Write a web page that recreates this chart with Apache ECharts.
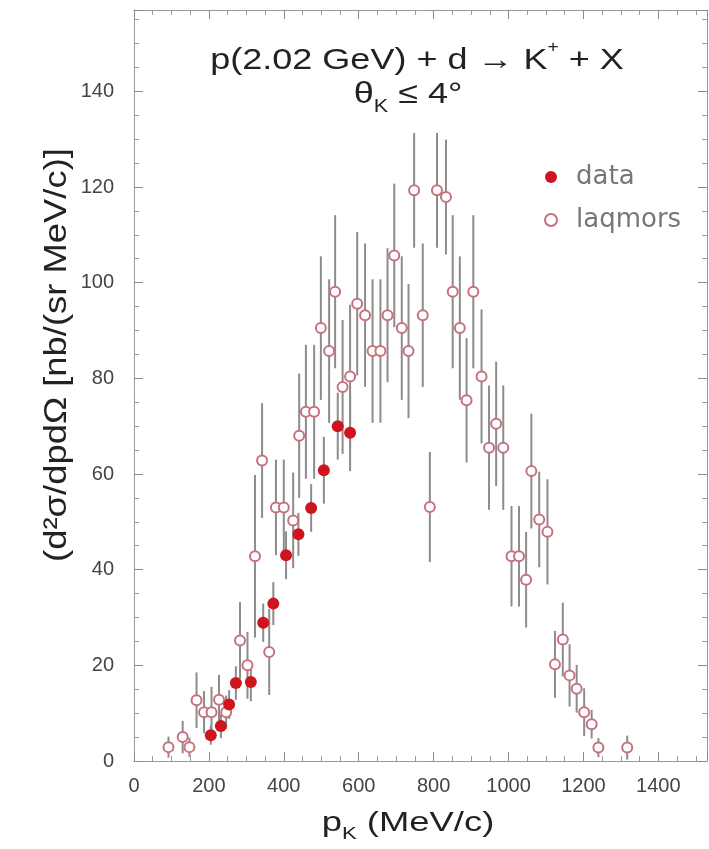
<!DOCTYPE html>
<html>
<head>
<meta charset="utf-8">
<script src="https://cdn.jsdelivr.net/npm/echarts@6/dist/echarts.min.js"></script>
<style>
html, body { margin: 0; padding: 0; background: #fff; }
#main { width: 709px; height: 849px; }
</style>
</head>
<body>
<div id="main"></div>
<script>
// 实验数据 (data): 动量 p_K, 截面, 误差
var dataX = [205, 232, 254, 272, 312, 345, 372, 406, 439, 473, 507, 544, 577];
var dataY = [5.4, 7.3, 11.8, 16.3, 16.5, 28.9, 32.9, 43.0, 47.4, 52.9, 60.8, 70.0, 68.6];
var dataErr = [2, 2.5, 3, 3.5, 4, 4, 4.5, 5, 4.5, 5, 7, 7, 8];

// 模拟 (laqmors)
var laqX = [92, 130, 148, 167, 187, 207, 227, 246, 283, 303, 323, 342, 361, 379, 400, 425,
	441, 459, 481, 499, 521, 537, 557, 577, 596, 617, 637, 658, 677, 695, 715, 733,
	748, 771, 790, 809, 833, 851, 870, 888, 906, 928, 948, 967, 986, 1008, 1028, 1047,
	1061, 1082, 1104, 1124, 1145, 1163, 1182, 1202, 1222, 1240, 1317];
var laqY = [2.9, 5.0, 2.9, 12.7, 10.2, 10.2, 12.8, 10.2, 25.2, 20.0, 42.8, 62.8, 22.8, 53.0, 53.0, 50.3,
	68.0, 73.0, 73.0, 90.5, 85.7, 98.1, 78.2, 80.4, 95.6, 93.2, 85.7, 85.7, 93.2, 105.7, 90.5, 85.7,
	119.3, 93.2, 53.1, 119.3, 117.9, 98.1, 90.5, 75.4, 98.1, 80.4, 65.5, 70.5, 65.5, 42.8, 42.8, 37.9,
	60.6, 50.5, 47.9, 20.2, 25.4, 17.9, 15.1, 10.2, 7.7, 2.8, 2.8];
var laqErr = [2.2, 3.4, 2, 5.8, 4.4, 5.3, 5.2, 3.5, 8, 7, 17, 12, 9, 10, 10, 10,
	13, 14, 14, 15, 15, 16, 14, 15, 15, 15, 15, 15, 14, 15, 15, 14,
	12, 15, 11.5, 12, 12, 16, 15, 13, 16, 14, 13, 13, 13, 10.5, 10.5, 10,
	12, 10, 11, 7, 7.7, 6.5, 5, 5, 3, 2, 2.5];

// 刻度标签
var xTicks = [0, 200, 400, 600, 800, 1000, 1200, 1400];
var yTicks = [0, 20, 40, 60, 80, 100, 120, 140];

var chart = echarts.init(document.getElementById('main'));

var toPairs = function(xs, ys) {
	return xs.map(function(x, i) {
		return [x, ys[i]];
	});
};

//误差棒
var errSeries = function(name, xs, ys, es) {
	return {
		type: 'custom',
		name: name + '-err',
		silent: true,
		z: 1,
		data: xs.map(function(x, i) {
			return [x, ys[i] - es[i], ys[i] + es[i]];
		}),
		encode: {
			x: 0,
			y: [1, 2]
		},
		renderItem: function(params, api) {
			var lo = api.coord([api.value(0), api.value(1)]);
			var hi = api.coord([api.value(0), api.value(2)]);
			return {
				type: 'line',
				shape: { x1: lo[0], y1: lo[1], x2: hi[0], y2: hi[1] },
				style: { stroke: '#8c8c8c', lineWidth: 2 }
			};
		}
	};
};

var axisFont = 'Liberation Sans, Arial, sans-serif';
var xAxisBase = {
	type: 'value',
	min: 0,
	max: 1530,
	interval: 200,
	axisLine: { show: true, onZero: false, lineStyle: { color: '#9a9a9a', width: 1 } },
	axisTick: { show: true, inside: true, length: 9, lineStyle: { color: '#8a8a8a' } },
	minorTick: { show: true, splitNumber: 4, length: 5, lineStyle: { color: '#9a9a9a' } },
	splitLine: { show: false }
};
var yAxisBase = {
	type: 'value',
	min: 0,
	max: 157,
	interval: 20,
	axisLine: { show: true, onZero: false, lineStyle: { color: '#9a9a9a', width: 1 } },
	axisTick: { show: true, inside: true, length: 9, lineStyle: { color: '#8a8a8a' } },
	minorTick: { show: true, splitNumber: 4, length: 5, lineStyle: { color: '#9a9a9a' } },
	splitLine: { show: false }
};

var option = {
	backgroundColor: '#fff',
	animation: false,
	grid: { left: 134, right: 2, top: 10, bottom: 88 },
	legend: {
		orient: 'vertical',
		left: 544,
		top: 162,
		padding: 0,
		itemWidth: 12,
		itemHeight: 12,
		itemGap: 13,
		data: ['data', 'laqmors'],
		textStyle: { fontSize: 26, lineHeight: 30, color: '#777', fontFamily: 'DejaVu Sans, sans-serif', padding: [0, 0, 0, 14] }
	},
	xAxis: [
		Object.assign({}, xAxisBase, {
			position: 'bottom',
			axisLabel: {
				show: true, margin: 15, fontSize: 20, color: '#444', fontFamily: axisFont,
				showMaxLabel: false,
				formatter: function(v) { return xTicks.indexOf(v) >= 0 ? String(v) : ''; }
			}
		}),
		Object.assign({}, xAxisBase, { position: 'top', axisLabel: { show: false } })
	],
	yAxis: [
		Object.assign({}, yAxisBase, {
			position: 'left',
			axisLabel: {
				show: true, margin: 20, fontSize: 20, color: '#444', fontFamily: axisFont,
				showMaxLabel: false,
				formatter: function(v) { return yTicks.indexOf(v) >= 0 ? String(v) : ''; }
			}
		}),
		Object.assign({}, yAxisBase, { position: 'right', axisLabel: { show: false } })
	],
	series: [
		errSeries('laqmors', laqX, laqY, laqErr),
		errSeries('data', dataX, dataY, dataErr),
		{
			name: 'laqmors',
			type: 'scatter',
			z: 3,
			symbol: 'circle',
			symbolSize: 10,
			itemStyle: { color: '#fff', borderColor: '#c8707c', borderWidth: 2, opacity: 1 },
			data: toPairs(laqX, laqY)
		},
		{
			name: 'data',
			type: 'scatter',
			z: 4,
			symbol: 'circle',
			symbolSize: 12,
			itemStyle: { color: '#d0141e', opacity: 1 },
			data: toPairs(dataX, dataY)
		}
	],
	graphic: [
		{
			type: 'text', x: 417, y: 58, scaleX: 1.2,
			style: {
				text: '{n|p(2.02 GeV) + d → K}{sup|+}{n| + X}',
				align: 'center', verticalAlign: 'middle',
				rich: {
					n: { fontSize: 30, fontFamily: axisFont, fill: '#222', lineHeight: 36, verticalAlign: 'bottom' },
					sup: { fontSize: 16, fontFamily: axisFont, fill: '#222', lineHeight: 17, verticalAlign: 'top' }
				}
			}
		},
		{
			type: 'text', x: 408, y: 98, scaleX: 1.2,
			style: {
				text: '{n|θ}{sub|K}{n| ≤ 4°}',
				align: 'center', verticalAlign: 'middle',
				rich: {
					n: { fontSize: 30, fontFamily: axisFont, fill: '#222', lineHeight: 36, verticalAlign: 'top' },
					sub: { fontSize: 18, fontFamily: axisFont, fill: '#222', lineHeight: 18, verticalAlign: 'bottom' }
				}
			}
		},
		{
			type: 'text', x: 57, y: 355, rotation: Math.PI / 2, scaleX: 1.3, scaleY: 1.15,
			style: {
				text: '(d²σ/dpdΩ [nb/(sr MeV/c)]',
				fontSize: 28, fontFamily: axisFont, fill: '#222',
				align: 'center', verticalAlign: 'middle'
			}
		},
		{
			type: 'text', x: 408, y: 826, scaleX: 1.3,
			style: {
				text: '{n|p}{sub|K}{n| (MeV/c)}',
				align: 'center', verticalAlign: 'middle',
				rich: {
					n: { fontSize: 28, fontFamily: axisFont, fill: '#222', lineHeight: 34, verticalAlign: 'top' },
					sub: { fontSize: 17, fontFamily: axisFont, fill: '#222', lineHeight: 17, verticalAlign: 'bottom' }
				}
			}
		}
	]
};

chart.setOption(option);
</script>
</body>
</html>
